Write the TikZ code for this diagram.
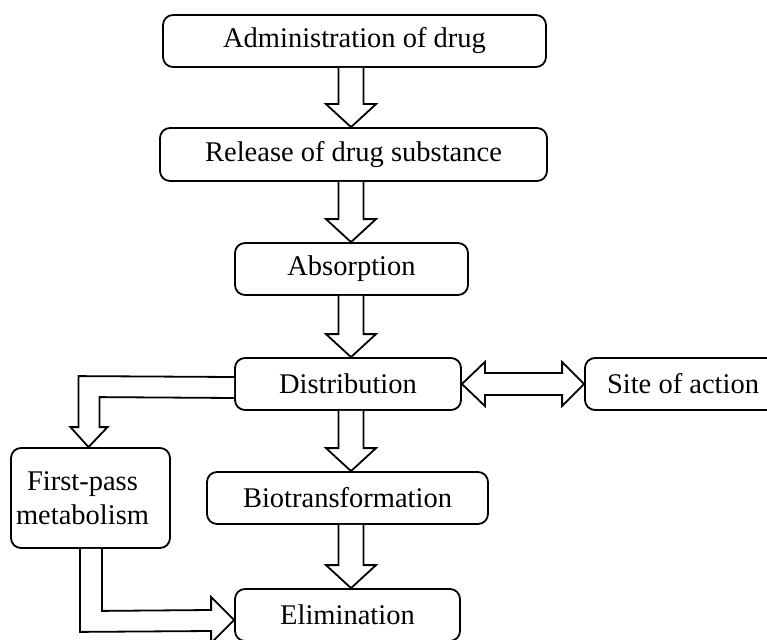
\documentclass[tikz,border=0pt]{standalone}
\usepackage{fontspec}
\setmainfont{Liberation Serif}
\usetikzlibrary{calc}
\begin{document}
\begin{tikzpicture}[x=1pt,y=-1pt,
  box/.style={draw, line width=1.8pt, rounded corners=10pt, inner sep=0pt,
    font=\fontsize{28.5}{34}\selectfont, align=center},
  blk/.style={draw, line width=1.8pt, line join=miter, fill=white}]
\useasboundingbox (0,0) rectangle (767,639);
\clip (0,0) rectangle (767,639);
\coordinate (ax) at (351,0);
\node[box, minimum width=383pt, minimum height=52pt] (admin) at (354.5,41) {Administration of drug};
\node[box, minimum width=387pt, minimum height=53pt] (release) at (353.5,154.5) {Release of drug substance};
\node[box, minimum width=233pt, minimum height=52pt] (absorp) at (351.5,269) {Absorption};
\node[box, minimum width=226pt, minimum height=52pt] (distrib) at (348,384) {Distribution};
\node[box, minimum width=196pt, minimum height=52pt] (site) at (683,384) {Site of action};
\node[box, minimum width=281pt, minimum height=52pt] (bio) at (347.5,498) {Biotransformation};
\node[box, minimum width=225pt, minimum height=52pt] (elim) at (347.5,615) {Elimination};
\node[box, minimum width=159pt, minimum height=100pt] (fp) at (90.5,498)
  {\hspace*{-16pt}First-pass\\\hspace*{-16pt}metabolism};

\newcommand\vblock[2]{%
  \draw[blk] ($(#1.south -| ax)+(-12.5,0)$) -- ($(#2.north -| ax)+(-12.5,-23)$)
    -- ($(#2.north -| ax)+(-25,-23)$) -- (#2.north -| ax)
    -- ($(#2.north -| ax)+(25,-23)$) -- ($(#2.north -| ax)+(12.5,-23)$)
    -- ($(#1.south -| ax)+(12.5,0)$);}
\vblock{admin}{release}
\vblock{release}{absorp}
\vblock{absorp}{distrib}
\vblock{distrib}{bio}
\vblock{bio}{elim}

% Distribution <-> Site of action
\draw[blk] (distrib.east) -- ($(distrib.east)+(23,-22)$) -- ($(distrib.east)+(23,-11)$)
  -- ($(site.west)+(-22,-11)$) -- ($(site.west)+(-22,-22)$) -- (site.west)
  -- ($(site.west)+(-22,22)$) -- ($(site.west)+(-22,11)$)
  -- ($(distrib.east)+(23,11)$) -- ($(distrib.east)+(23,22)$) -- cycle;

% Distribution -> First-pass metabolism
\draw[blk] ($(distrib.west)+(0,-7)$) -- ($(fp.north)+(-12,-71)$) -- ($(fp.north)+(-12,-20)$)
  -- ($(fp.north)+(-20,-20)$) -- ($(fp.north)+(-2,0)$) -- ($(fp.north)+(17,-20)$)
  -- ($(fp.north)+(9,-20)$) -- ($(fp.north)+(9,-50)$) -- ($(distrib.west)+(0,14)$);

% First-pass metabolism -> Elimination
\draw[blk] ($(fp.south)+(11.5,0)$) -- ($(fp.south)+(11.5,62)$) -- ($(elim.west)+(-23,-5)$)
  -- ($(elim.west)+(-23,-18)$) -- ($(elim.west)+(0,5)$) -- ($(elim.west)+(-23,28)$)
  -- ($(elim.west)+(-23,16)$) -- ($(fp.south)+(-10.5,83)$) -- ($(fp.south)+(-10.5,0)$);
\end{tikzpicture}
\end{document}
